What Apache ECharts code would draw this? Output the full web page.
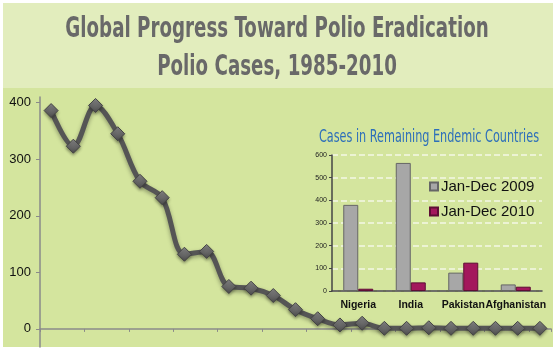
<!DOCTYPE html>
<html>
<head>
<meta charset="utf-8">
<script src="https://cdn.jsdelivr.net/npm/echarts@6/dist/echarts.min.js"></script>
<style>
  html, body { margin: 0; padding: 0; background: #fff; }
  #chart { width: 556px; height: 351px; }
</style>
</head>
<body>
<div id="chart"></div>
<script>
// main series: polio cases, one point per year shown
var years = ['1985','1986','1987','1988','1989','1990','1991','1992','1993','1994','1995','1996',
             '1997','1998','1999','2000','2001','2002','2003','2004','2005','2006','2007'];
var cases = [386, 323, 395, 345, 261, 232, 132, 137, 75, 72, 59, 34, 18, 7, 10, 1, 1, 2, 1, 1, 1, 1, 1];
var mainTicks = [0, 100, 200, 300, 400];

// inset: remaining endemic countries
var countries = ['Nigeria', 'India', 'Pakistan', 'Afghanistan'];
var cases2009 = [380, 565, 81, 29];
var cases2010 = [10, 38, 125, 19];

var chart = echarts.init(document.getElementById('chart'));

var option = {
    backgroundColor: '#fff',
    animation: false,
    graphic: [
        { type: 'rect', z: -10, shape: { x: 3, y: 3, width: 550, height: 344 }, style: { fill: '#d4e59e' } },
        { type: 'rect', z: -9, shape: { x: 3, y: 3, width: 550, height: 85 }, style: { fill: '#e2edbd' } },
        // titles drawn as scaled text to mimic the condensed face
        {
            type: 'text', x: 277, y: 30, scaleX: 0.725,
            style: {
                text: 'Global Progress Toward Polio Eradication',
                align: 'center', verticalAlign: 'middle',
                font: "bold 28px 'DejaVu Sans Condensed', sans-serif",
                fill: '#696969'
            }
        },
        {
            type: 'text', x: 277, y: 68, scaleX: 0.725,
            style: {
                text: 'Polio Cases, 1985-2010',
                align: 'center', verticalAlign: 'middle',
                font: "bold 28px 'DejaVu Sans Condensed', sans-serif",
                fill: '#696969'
            }
        },
        {
            type: 'text', x: 429, y: 138, scaleX: 0.735,
            style: {
                text: 'Cases in Remaining Endemic Countries',
                align: 'center', verticalAlign: 'middle',
                font: "17px 'DejaVu Sans Condensed', sans-serif",
                fill: '#2d6fba'
            }
        }
    ],
    legend: {
        data: ['Jan-Dec 2009', 'Jan-Dec 2010'],
        orient: 'vertical',
        left: 424,
        top: 174,
        itemWidth: 8,
        itemHeight: 8,
        itemGap: 10,
        icon: 'rect',
        textStyle: { fontFamily: 'Liberation Sans', fontSize: 15, color: '#111', padding: [0, 0, 0, -2] }
    },
    grid: [
        { left: 40, right: 5, top: 97, bottom: 4 },
        { left: 332, right: 14, top: 155, bottom: 60 }
    ],
    xAxis: [
        {
            gridIndex: 0,
            type: 'category',
            data: years,
            boundaryGap: true,
            axisLine: { onZero: true, lineStyle: { color: '#8a8a8a', width: 1.5 } },
            axisTick: { show: true, inside: false, length: 3, lineStyle: { color: '#8a8a8a' } },
            axisLabel: { show: false }
        },
        {
            gridIndex: 1,
            type: 'category',
            data: countries,
            axisLine: { lineStyle: { color: '#444', width: 1.5 } },
            axisTick: { length: 3, lineStyle: { color: '#444' } },
            axisLabel: {
                interval: 0,
                hideOverlap: false,
                fontFamily: 'Liberation Sans',
                fontWeight: 'bold',
                fontSize: 10.5,
                color: '#111',
                margin: 9
            }
        }
    ],
    yAxis: [
        {
            gridIndex: 0,
            type: 'value',
            min: -32,
            max: 410,
            axisLine: { show: true, lineStyle: { color: '#8a8a8a', width: 1.5 } },
            axisTick: { show: true, length: 4, customValues: mainTicks, lineStyle: { color: '#8a8a8a' } },
            axisLabel: { customValues: mainTicks, fontFamily: 'Liberation Sans', fontSize: 13, color: '#111', margin: 9 },
            splitLine: { show: false }
        },
        {
            gridIndex: 1,
            type: 'value',
            min: 0,
            max: 600,
            interval: 100,
            axisLine: { show: true, lineStyle: { color: '#444', width: 1.5 } },
            axisTick: { show: true, length: 3, lineStyle: { color: '#444' } },
            axisLabel: { fontFamily: 'Liberation Sans', fontSize: 7, color: '#222', margin: 5 },
            splitLine: { show: true, lineStyle: { color: '#f4f8e6', type: 'dashed', width: 1.5 } }
        }
    ],
    series: [
        {
            name: 'Polio cases',
            type: 'line',
            xAxisIndex: 0,
            yAxisIndex: 0,
            data: cases,
            smooth: 0.35,
            symbol: 'diamond',
            symbolSize: 14,
            lineStyle: {
                color: '#555',
                width: 5,
                shadowColor: 'rgba(0,0,0,0.35)',
                shadowBlur: 4,
                shadowOffsetY: 2
            },
            itemStyle: {
                color: new echarts.graphic.LinearGradient(0, 0, 0, 1, [
                    { offset: 0, color: '#8a8a8a' },
                    { offset: 1, color: '#4a4a4a' }
                ]),
                borderColor: '#444',
                borderWidth: 1,
                shadowColor: 'rgba(0,0,0,0.3)',
                shadowBlur: 3,
                shadowOffsetY: 2
            },
            z: 3
        },
        {
            name: 'Jan-Dec 2009',
            type: 'bar',
            xAxisIndex: 1,
            yAxisIndex: 1,
            data: cases2009,
            barWidth: 15,
            barGap: '0%',
            itemStyle: { color: '#a7a7a7', borderColor: '#666', borderWidth: 1 }
        },
        {
            name: 'Jan-Dec 2010',
            type: 'bar',
            xAxisIndex: 1,
            yAxisIndex: 1,
            data: cases2010,
            barWidth: 15,
            barGap: '0%',
            itemStyle: { color: '#a3175c', borderColor: '#5e0d35', borderWidth: 1 }
        }
    ]
};

chart.setOption(option);
</script>
</body>
</html>
